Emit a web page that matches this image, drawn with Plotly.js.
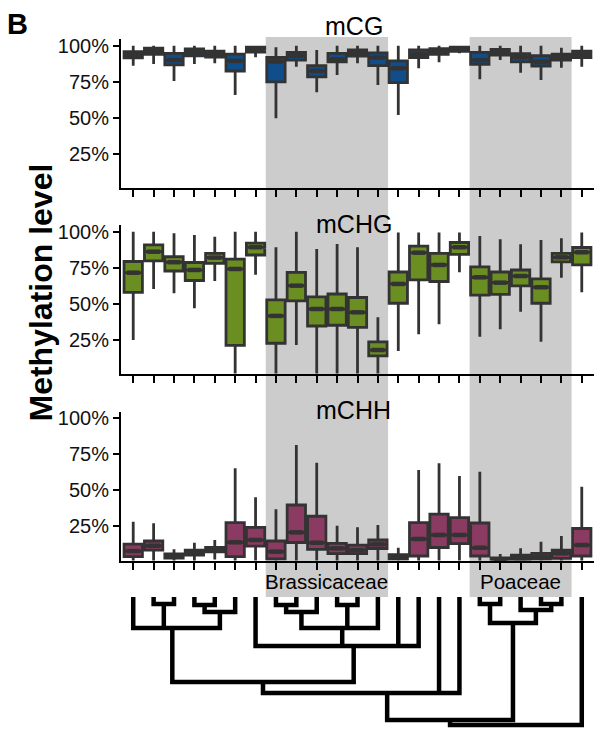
<!DOCTYPE html>
<html><head><meta charset="utf-8">
<script src="https://cdn.plot.ly/plotly-3.0.1.min.js"></script>
<style>html,body{margin:0;padding:0;background:#fff}#chart{width:594px;height:729px}</style>
</head><body><div id="chart"></div>
<script>
// ---- categories: 23 species in tree-leaf order ----
const species = [0,1,2,3,4,5,6,7,8,9,10,11,12,13,14,15,16,17,18,19,20,21,22];

// ---- mCG ----
const mCG_low = [0.86,0.873,0.755,0.873,0.878,0.658,0.919,0.496,0.854,0.676,0.797,0.878,0.727,0.519,0.843,0.885,0.947,0.767,0.90,0.8125,0.762,0.847,0.854];
const mCG_q1  = [0.915,0.94,0.866,0.93,0.92,0.824,0.955,0.748,0.90,0.783,0.887,0.928,0.862,0.744,0.918,0.94,0.96,0.871,0.935,0.887,0.859,0.90,0.918];
const mCG_med = [0.935,0.96,0.90,0.955,0.94,0.894,0.973,0.89,0.93,0.824,0.905,0.95,0.918,0.843,0.94,0.96,0.975,0.90,0.955,0.92,0.889,0.92,0.94];
const mCG_q3  = [0.958,0.982,0.947,0.978,0.962,0.942,0.99,0.918,0.953,0.862,0.947,0.97,0.95,0.894,0.97,0.98,0.99,0.954,0.975,0.945,0.93,0.942,0.962];
const mCG_up  = [1.0,1.0,1.0,1.0,1.0,1.0,1.0,0.989,1.0,0.97,1.0,1.0,1.0,1.0,1.0,1.0,1.0,1.0,1.0,1.0,1.0,0.986,1.0];

// ---- mCHG ----
const mCHG_low = [0.248,0.602,0.572,0.468,0.658,0.0,0.70,0.0,0.213,0.0,0.0,0.0,0.0,0.172,0.288,0.357,0.718,0.271,0.322,0.444,0.236,0.68,0.579];
const mCHG_q1  = [0.578,0.797,0.727,0.661,0.78,0.211,0.838,0.225,0.519,0.345,0.35,0.335,0.137,0.503,0.665,0.654,0.843,0.56,0.565,0.623,0.503,0.79,0.769];
const mCHG_med = [0.715,0.861,0.788,0.734,0.82,0.741,0.892,0.415,0.625,0.463,0.463,0.44,0.178,0.637,0.854,0.769,0.892,0.683,0.646,0.692,0.614,0.822,0.857];
const mCHG_q3  = [0.793,0.908,0.826,0.786,0.85,0.81,0.92,0.526,0.717,0.547,0.567,0.543,0.234,0.72,0.90,0.849,0.925,0.755,0.72,0.734,0.672,0.849,0.89];
const mCHG_up  = [1.0,1.0,0.989,0.977,0.965,1.0,1.0,0.892,1.0,0.88,0.915,0.892,0.405,0.995,0.995,0.995,0.995,0.97,0.947,0.912,0.942,0.954,0.995];

// ---- mCHH ----
const mCHH_low = [0.0,0.0,0.0,0.005,0.02,0.0,0.0,0.0,0.0,0.0,0.0,0.0,0.0,0.0,0.0,0.0,0.0,0.0,0.0,0.0,0.0,0.0,0.0];
const mCHH_q1  = [0.04,0.085,0.03,0.05,0.072,0.04,0.113,0.023,0.1375,0.09,0.061,0.061,0.096,0.02,0.044,0.103,0.13,0.044,0.01,0.015,0.023,0.028,0.044];
const mCHH_med = [0.078,0.115,0.042,0.068,0.088,0.139,0.155,0.074,0.208,0.136,0.097,0.085,0.125,0.035,0.162,0.19,0.19,0.101,0.02,0.03,0.039,0.0625,0.12];
const mCHH_q3  = [0.127,0.148,0.058,0.085,0.104,0.276,0.242,0.148,0.398,0.32,0.132,0.12,0.155,0.054,0.276,0.335,0.311,0.273,0.03,0.05,0.0625,0.085,0.235];
const mCHH_up  = [0.282,0.271,0.09,0.136,0.155,0.653,0.451,0.368,0.815,0.692,0.254,0.243,0.259,0.101,0.641,0.6875,0.60,0.629,0.058,0.097,0.143,0.183,0.525];

const panelNames = ['mCG','mCHG','mCHH'];
const yTickVals = [0.25,0.5,0.75,1];
const yTickText = ['25%','50%','75%','100%'];

// ---- families (shaded bands) ----
const familyNames = ['Brassicaceae','Poaceae'];
const familyFirst = [7,17];
const familyLast  = [12,21];

// ---- dendrogram: internal nodes, children (leaf index or node name), heights ----
const nodeNames    = ['a','b','c','d','e','f','g','h','i','j','k','l','m','n','o','p','q'];
const nodeChildren = [[1,2],[3,4],['b',5],[0,'a','c'],[7,8],['e',9],[10,11],['f','g',12],[6,'h',13,14],['d','i'],['j',15,16],[17,18],[20,21],[19,'m'],['l','n'],['k','o'],['p',22]];
const nodeHeights  = [7,8,15,31,8,15,8,31,49,85,96,7,7,13,26,123,128];

// ================= drawing =================
const W = 594, H = 729;
const FONT = 'Liberation Sans, Arial, Helvetica, sans-serif';
const colors = ['#104E8B','#6B8E23','#8B3A62'];
const lineCol = '#333333';
const py = p => 1 - p / H;

// panel pixel geometry: [top, bottom]
const panelPx = [[39.2,187.5],[225.2,373.5],[411.8,560.6]];
const yMin = [0.015,0.015,0.012];

const stats = [
  [mCG_low,mCG_q1,mCG_med,mCG_q3,mCG_up],
  [mCHG_low,mCHG_q1,mCHG_med,mCHG_q3,mCHG_up],
  [mCHH_low,mCHH_q1,mCHH_med,mCHH_q3,mCHH_up]
];

const traces = [];
const layout = {
  width: W, height: H,
  margin: {l:0,r:0,t:0,b:0},
  paper_bgcolor: '#ffffff', plot_bgcolor: 'rgba(0,0,0,0)',
  showlegend: false, hovermode: false, boxmode: 'overlay',
  font: {family: FONT, color: '#000'},
  shapes: [], annotations: []
};

stats.forEach((s, i) => {
  const k = i + 1;
  const xa = 'x' + (k === 1 ? '' : k), ya = 'y' + (k === 1 ? '' : k);
  traces.push({
    type: 'box', x: species,
    lowerfence: s[0], q1: s[1], median: s[2], q3: s[3], upperfence: s[4],
    notched: true, notchwidth: 0.25, notchspan: species.map(() => 0.003),
    width: 0.9, whiskerwidth: 0, boxpoints: false,
    fillcolor: colors[i], line: {color: lineCol, width: 2.8},
    xaxis: xa, yaxis: ya, hoverinfo: 'skip'
  });
  traces.push({
    type: 'scatter', mode: 'markers', x: species, y: s[2],
    marker: {symbol: 'line-ew', size: 9, color: lineCol, line: {color: lineCol, width: 4.5}},
    xaxis: xa, yaxis: ya, hoverinfo: 'skip', cliponaxis: false
  });
  layout['xaxis' + (k === 1 ? '' : k)] = {
    domain: [121/W, 1], range: [-0.6, 22.6], anchor: ya,
    showline: true, linecolor: '#000', linewidth: 2,
    ticks: 'outside', ticklen: 7, tickwidth: 2, tickcolor: '#000',
    tickvals: species, showticklabels: false,
    showgrid: false, zeroline: false, fixedrange: true
  };
  layout['yaxis' + (k === 1 ? '' : k)] = {
    domain: [py(panelPx[i][1]), py(panelPx[i][0])], range: [yMin[i], 1.045], anchor: xa,
    showline: true, linecolor: '#000', linewidth: 2,
    ticks: 'outside', ticklen: 6, tickwidth: 2, tickcolor: '#000',
    tickvals: yTickVals, ticktext: yTickText,
    tickfont: {family: FONT, size: 20, color: '#111'},
    showgrid: false, zeroline: false, fixedrange: true
  };
});

// dendrogram
const pos = {}, hgt = {};
species.forEach(i => { pos[i] = i; hgt[i] = 0; });
const dx = [], dy = [];
nodeNames.forEach((n, j) => {
  const ch = nodeChildren[j].slice().sort((a, b) => pos[a] - pos[b]);
  const hh = nodeHeights[j];
  pos[n] = ch.reduce((acc, c) => acc + pos[c], 0) / ch.length;
  hgt[n] = hh;
  const f = ch[0], l = ch[ch.length - 1];
  dx.push(pos[f], pos[f], pos[l], pos[l], null);
  dy.push(hgt[f], hh, hh, hgt[l], null);
  ch.slice(1, -1).forEach(c => { dx.push(pos[c], pos[c], null); dy.push(hgt[c], hh, null); });
});
traces.push({
  type: 'scatter', mode: 'lines', x: dx, y: dy,
  line: {color: '#000', width: 4.5}, xaxis: 'x4', yaxis: 'y4', hoverinfo: 'skip'
});
layout.xaxis4 = {domain: [121/W, 1], range: [-0.6, 22.6], anchor: 'y4', visible: false, fixedrange: true};
layout.yaxis4 = {domain: [py(728), py(595)], range: [131, -2], anchor: 'x4', visible: false, fixedrange: true};

// family bands and labels
familyNames.forEach((name, i) => {
  layout.shapes.push({
    type: 'rect', layer: 'below', xref: 'x3', yref: 'paper',
    x0: familyFirst[i] - 0.5, x1: familyLast[i] + 0.5, y0: py(597), y1: py(37),
    fillcolor: '#cccccc', line: {width: 0}
  });
  layout.annotations.push({
    text: name, xref: 'x3', yref: 'paper',
    x: (familyFirst[i] + familyLast[i]) / 2, y: py(581.5),
    xanchor: 'center', yanchor: 'middle', showarrow: false,
    font: {family: FONT, size: 20.5, color: '#000'}
  });
});

// panel titles
const titleY = [26.5, 223.5, 410];
panelNames.forEach((t, i) => {
  layout.annotations.push({
    text: t, xref: 'paper', yref: 'paper', x: 354/W, y: py(titleY[i]),
    xanchor: 'center', yanchor: 'middle', showarrow: false,
    font: {family: FONT, size: 25, color: '#000'}
  });
});

// axis title and panel letter
layout.annotations.push({
  text: '<b>Methylation level</b>', xref: 'paper', yref: 'paper',
  x: 40/W, y: py(292.5), textangle: -90, xanchor: 'center', yanchor: 'middle',
  showarrow: false, font: {family: FONT, size: 32, color: '#000'}
});
layout.annotations.push({
  text: '<b>B</b>', xref: 'paper', yref: 'paper',
  x: 17.5/W, y: py(24), xanchor: 'center', yanchor: 'middle',
  showarrow: false, font: {family: FONT, size: 29, color: '#000'}
});

Plotly.newPlot('chart', traces, layout, {displayModeBar: false, staticPlot: true});
</script>
</body></html>
